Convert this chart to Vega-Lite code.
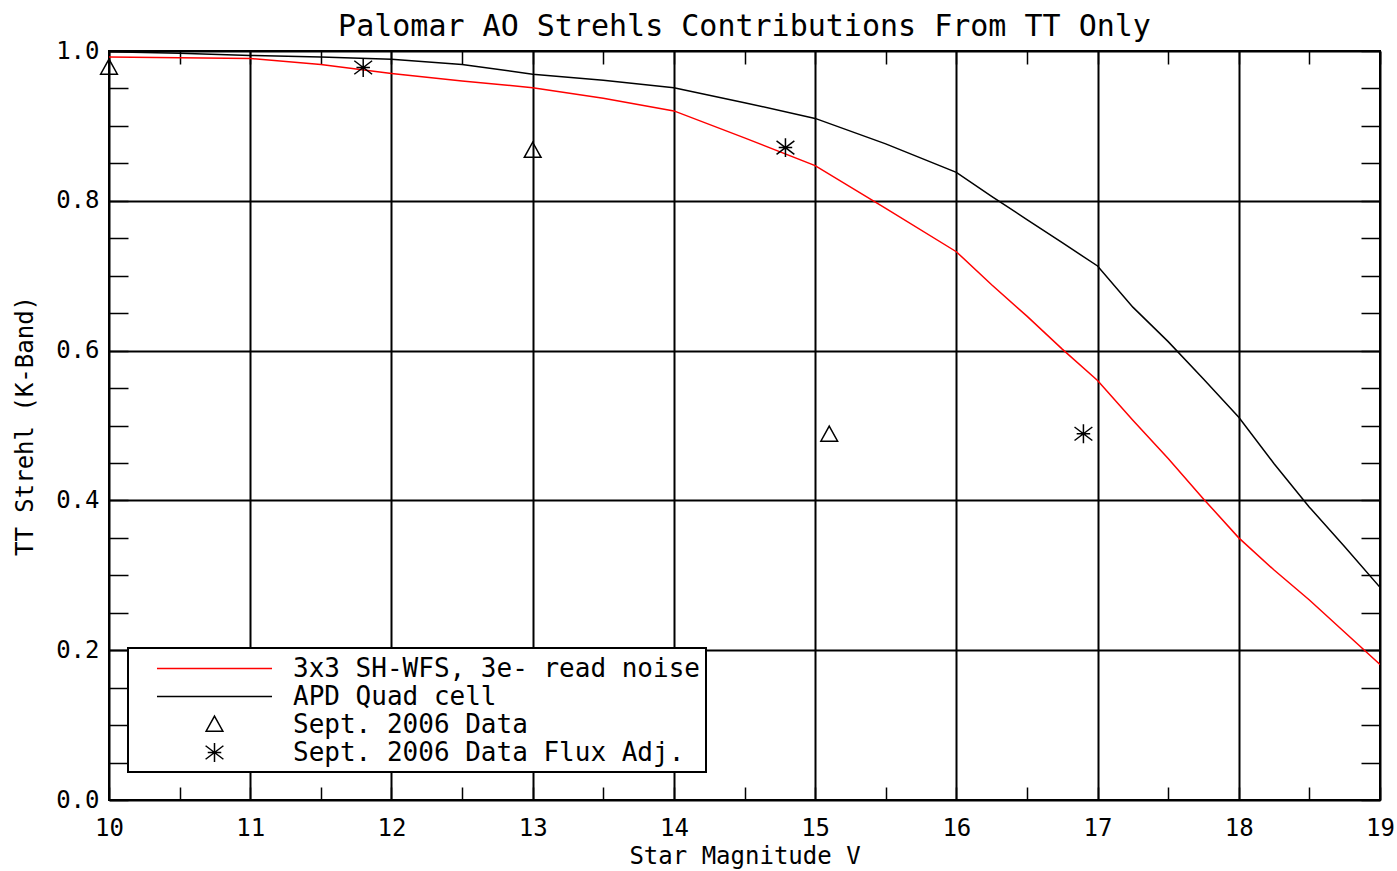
{
  "$schema": "https://vega.github.io/schema/vega-lite/v6.json",
  "width": 1271,
  "height": 749,
  "autosize": {"type": "none"},
  "padding": {"left": 109, "top": 51, "right": 17, "bottom": 71},
  "background": "white",
  "title": {
    "text": "Palomar AO Strehls Contributions From TT Only",
    "font": "DejaVu Sans Mono",
    "fontSize": 30,
    "fontWeight": "normal",
    "color": "black",
    "anchor": "middle",
    "baseline": "alphabetic",
    "offset": -27
  },
  "datasets": {
    "curves": [
      {"mag": 10, "strehl": 0.992, "series": "3x3 SH-WFS, 3e- read noise"},
      {"mag": 10.5, "strehl": 0.991, "series": "3x3 SH-WFS, 3e- read noise"},
      {"mag": 11, "strehl": 0.990, "series": "3x3 SH-WFS, 3e- read noise"},
      {"mag": 11.5, "strehl": 0.982, "series": "3x3 SH-WFS, 3e- read noise"},
      {"mag": 12, "strehl": 0.970, "series": "3x3 SH-WFS, 3e- read noise"},
      {"mag": 12.5, "strehl": 0.960, "series": "3x3 SH-WFS, 3e- read noise"},
      {"mag": 13, "strehl": 0.951, "series": "3x3 SH-WFS, 3e- read noise"},
      {"mag": 13.5, "strehl": 0.937, "series": "3x3 SH-WFS, 3e- read noise"},
      {"mag": 14, "strehl": 0.920, "series": "3x3 SH-WFS, 3e- read noise"},
      {"mag": 14.5, "strehl": 0.884, "series": "3x3 SH-WFS, 3e- read noise"},
      {"mag": 15, "strehl": 0.847, "series": "3x3 SH-WFS, 3e- read noise"},
      {"mag": 15.5, "strehl": 0.790, "series": "3x3 SH-WFS, 3e- read noise"},
      {"mag": 16, "strehl": 0.732, "series": "3x3 SH-WFS, 3e- read noise"},
      {"mag": 16.25, "strehl": 0.688, "series": "3x3 SH-WFS, 3e- read noise"},
      {"mag": 16.5, "strehl": 0.646, "series": "3x3 SH-WFS, 3e- read noise"},
      {"mag": 16.75, "strehl": 0.602, "series": "3x3 SH-WFS, 3e- read noise"},
      {"mag": 17, "strehl": 0.560, "series": "3x3 SH-WFS, 3e- read noise"},
      {"mag": 17.25, "strehl": 0.507, "series": "3x3 SH-WFS, 3e- read noise"},
      {"mag": 17.5, "strehl": 0.456, "series": "3x3 SH-WFS, 3e- read noise"},
      {"mag": 17.75, "strehl": 0.402, "series": "3x3 SH-WFS, 3e- read noise"},
      {"mag": 18, "strehl": 0.350, "series": "3x3 SH-WFS, 3e- read noise"},
      {"mag": 18.25, "strehl": 0.307, "series": "3x3 SH-WFS, 3e- read noise"},
      {"mag": 18.5, "strehl": 0.267, "series": "3x3 SH-WFS, 3e- read noise"},
      {"mag": 18.75, "strehl": 0.224, "series": "3x3 SH-WFS, 3e- read noise"},
      {"mag": 19, "strehl": 0.181, "series": "3x3 SH-WFS, 3e- read noise"},
      {"mag": 10, "strehl": 0.999, "series": "APD Quad cell"},
      {"mag": 10.5, "strehl": 0.997, "series": "APD Quad cell"},
      {"mag": 11, "strehl": 0.994, "series": "APD Quad cell"},
      {"mag": 11.5, "strehl": 0.992, "series": "APD Quad cell"},
      {"mag": 12, "strehl": 0.989, "series": "APD Quad cell"},
      {"mag": 12.5, "strehl": 0.982, "series": "APD Quad cell"},
      {"mag": 13, "strehl": 0.969, "series": "APD Quad cell"},
      {"mag": 13.5, "strehl": 0.961, "series": "APD Quad cell"},
      {"mag": 14, "strehl": 0.951, "series": "APD Quad cell"},
      {"mag": 14.5, "strehl": 0.931, "series": "APD Quad cell"},
      {"mag": 15, "strehl": 0.910, "series": "APD Quad cell"},
      {"mag": 15.5, "strehl": 0.876, "series": "APD Quad cell"},
      {"mag": 16, "strehl": 0.838, "series": "APD Quad cell"},
      {"mag": 16.25, "strehl": 0.806, "series": "APD Quad cell"},
      {"mag": 16.5, "strehl": 0.775, "series": "APD Quad cell"},
      {"mag": 16.75, "strehl": 0.744, "series": "APD Quad cell"},
      {"mag": 17, "strehl": 0.713, "series": "APD Quad cell"},
      {"mag": 17.25, "strehl": 0.658, "series": "APD Quad cell"},
      {"mag": 17.5, "strehl": 0.612, "series": "APD Quad cell"},
      {"mag": 17.75, "strehl": 0.562, "series": "APD Quad cell"},
      {"mag": 18, "strehl": 0.511, "series": "APD Quad cell"},
      {"mag": 18.25, "strehl": 0.449, "series": "APD Quad cell"},
      {"mag": 18.5, "strehl": 0.391, "series": "APD Quad cell"},
      {"mag": 18.75, "strehl": 0.338, "series": "APD Quad cell"},
      {"mag": 19, "strehl": 0.284, "series": "APD Quad cell"}
    ],
    "obs": [
      {"mag": 10.0, "strehl": 0.978, "series": "Sept. 2006 Data"},
      {"mag": 13.0, "strehl": 0.867, "series": "Sept. 2006 Data"},
      {"mag": 15.1, "strehl": 0.488, "series": "Sept. 2006 Data"},
      {"mag": 11.8, "strehl": 0.978, "series": "Sept. 2006 Data Flux Adj."},
      {"mag": 14.79, "strehl": 0.871, "series": "Sept. 2006 Data Flux Adj."},
      {"mag": 16.9, "strehl": 0.489, "series": "Sept. 2006 Data Flux Adj."}
    ]
  },
  "layer": [
    {
      "data": {"name": "curves"},
      "mark": {"type": "line", "strokeWidth": 1.5, "clip": true},
      "encoding": {
        "x": {
          "field": "mag", "type": "quantitative",
          "scale": {"domain": [10, 19], "nice": false, "zero": false},
          "axis": {
            "title": "Star Magnitude V",
            "values": [10, 10.5, 11, 11.5, 12, 12.5, 13, 13.5, 14, 14.5, 15, 15.5, 16, 16.5, 17, 17.5, 18, 18.5, 19],
            "labelExpr": "abs(datum.value - round(datum.value)) < 0.001 ? format(datum.value, 'd') : ''",
            "gridOpacity": {"condition": {"test": "abs(datum.value - round(datum.value)) < 0.001", "value": 1}, "value": 0},
            "tickSize": -13,
            "labelPadding": 29,
            "titlePadding": 4,
            "labelFlush": false
          }
        },
        "y": {
          "field": "strehl", "type": "quantitative",
          "scale": {"domain": [0, 1], "nice": false, "zero": false},
          "axis": {
            "title": "TT Strehl (K-Band)",
            "values": [0, 0.05, 0.1, 0.15, 0.2, 0.25, 0.3, 0.35, 0.4, 0.45, 0.5, 0.55, 0.6, 0.65, 0.7, 0.75, 0.8, 0.85, 0.9, 0.95, 1.0],
            "labelExpr": "abs(datum.value*5 - round(datum.value*5)) < 0.001 ? format(datum.value, '.1f') : ''",
            "gridOpacity": {"condition": {"test": "abs(datum.value*5 - round(datum.value*5)) < 0.001", "value": 1}, "value": 0},
            "tickSize": -19,
            "labelPadding": 29,
            "titlePadding": 18,
            "labelFlush": false
          }
        },
        "color": {
          "field": "series", "type": "nominal",
          "scale": {
            "domain": ["3x3 SH-WFS, 3e- read noise", "APD Quad cell", "Sept. 2006 Data", "Sept. 2006 Data Flux Adj."],
            "range": ["#ff0000", "#000000", "#000000", "#000000"]
          },
          "legend": {"title": null}
        }
      }
    },
    {
      "data": {"name": "obs"},
      "mark": {"type": "point", "filled": false, "size": 729, "strokeWidth": 1.5, "opacity": 1},
      "encoding": {
        "x": {
          "field": "mag", "type": "quantitative",
          "axis": {
            "orient": "top",
            "title": null,
            "values": [10, 10.5, 11, 11.5, 12, 12.5, 13, 13.5, 14, 14.5, 15, 15.5, 16, 16.5, 17, 17.5, 18, 18.5, 19],
            "labels": false,
            "grid": false,
            "tickSize": -13
          }
        },
        "y": {
          "field": "strehl", "type": "quantitative",
          "axis": {
            "orient": "right",
            "title": null,
            "values": [0, 0.05, 0.1, 0.15, 0.2, 0.25, 0.3, 0.35, 0.4, 0.45, 0.5, 0.55, 0.6, 0.65, 0.7, 0.75, 0.8, 0.85, 0.9, 0.95, 1.0],
            "labels": false,
            "grid": false,
            "tickSize": -19
          }
        },
        "color": {"field": "series", "type": "nominal", "legend": {"title": null}},
        "shape": {
          "field": "series", "type": "nominal",
          "scale": {
            "domain": ["3x3 SH-WFS, 3e- read noise", "APD Quad cell", "Sept. 2006 Data", "Sept. 2006 Data Flux Adj."],
            "range": [
              "M-4.26,0L4.26,0",
              "M-4.26,0L4.26,0",
              "M0,-0.62L0.62,0.5L-0.62,0.5Z",
              "M0,-0.7L0,0.7M-0.66,-0.5L0.66,0.5M-0.66,0.5L0.66,-0.5M-0.5,0L0.5,0"
            ]
          },
          "legend": {"title": null}
        }
      }
    }
  ],
  "resolve": {"axis": {"x": "independent", "y": "independent"}},
  "config": {
    "view": {"stroke": "black", "strokeWidth": 2},
    "axis": {
      "labelFont": "DejaVu Sans Mono",
      "labelFontSize": 24,
      "labelColor": "black",
      "titleFont": "DejaVu Sans Mono",
      "titleFontSize": 24,
      "titleFontWeight": "normal",
      "titleColor": "black",
      "tickColor": "black",
      "tickWidth": 1.5,
      "gridColor": "black",
      "gridWidth": 2,
      "domain": false
    },
    "legend": {
      "orient": "none",
      "legendX": 19,
      "legendY": 597,
      "strokeColor": "black",
      "strokeWidth": 2,
      "fillColor": "white",
      "padding": 6,
      "rowPadding": -1,
      "symbolSize": 729,
      "symbolStrokeWidth": 1.5,
      "symbolOffset": 66,
      "labelOffset": 64,
      "labelFont": "DejaVu Sans Mono",
      "labelFontSize": 26,
      "labelColor": "black",
      "labelLimit": 800
    }
  }
}
